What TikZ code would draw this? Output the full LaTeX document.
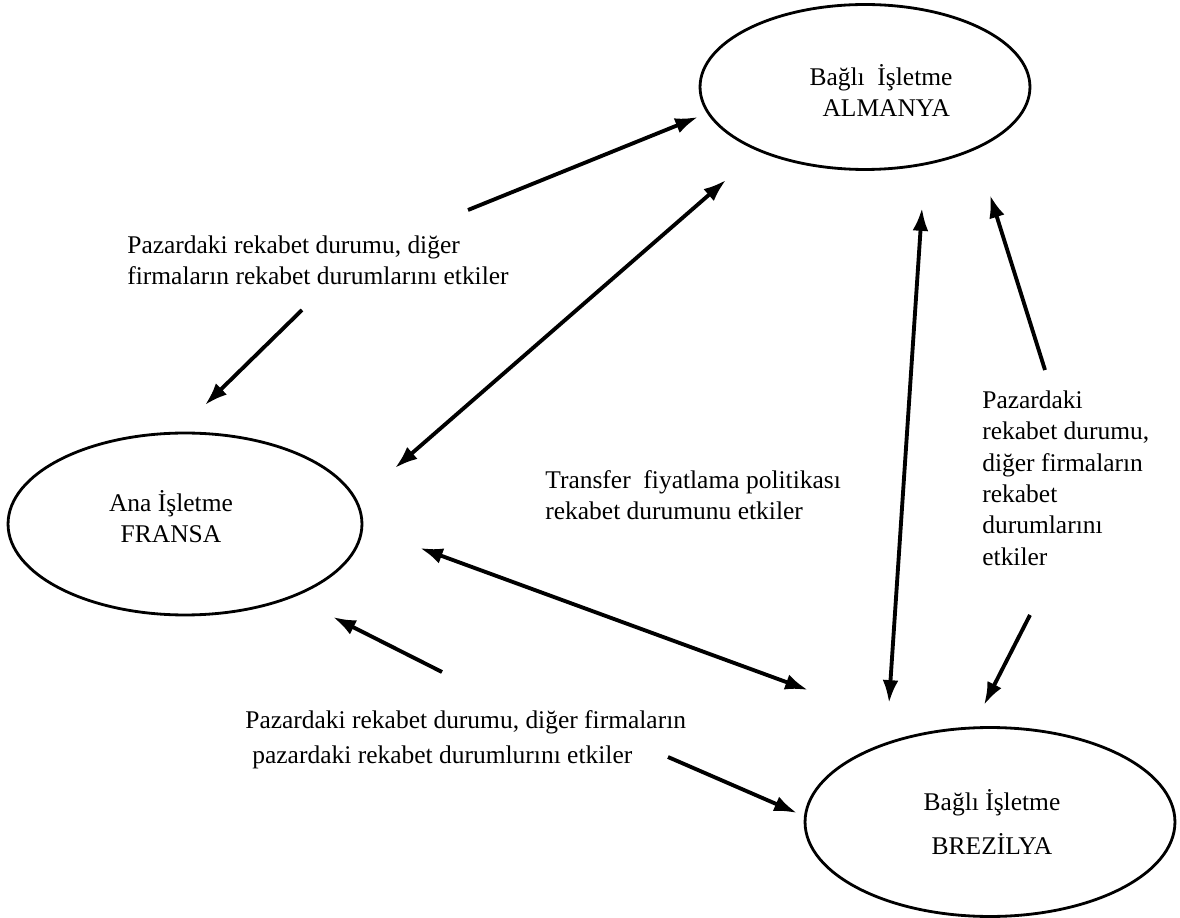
\documentclass[tikz,border=0pt]{standalone}
\usepackage{fontspec}
\setmainfont{Liberation Serif}
\usetikzlibrary{arrows.meta, positioning, shapes.geometric}

\begin{document}
\begin{tikzpicture}[x=0.02cm, y=-0.02cm, >={Latex[length=13pt, width=9pt]}, font=\fontsize{14.5}{17.8}\selectfont]
        % Estilos de empresas, textos y flechas
        \tikzstyle{empresa} = [draw, ellipse, line width=1.6pt, inner sep=0pt]
        \tikzstyle{texto} = [align=left, anchor=base west, inner sep=0pt]
        \tikzstyle{nombre} = [align=center, anchor=base, inner sep=0pt]
        \tikzstyle{flecha} = [line width=2.2pt]

        \useasboundingbox (0,0) rectangle (1180,918);

        % Empresas
        \node at (865,87) [empresa, minimum width=6.6cm, minimum height=3.3cm] (almanya) {};
        \node at (185,524) [empresa, minimum width=7.08cm, minimum height=3.64cm] (fransa) {};
        \node at (990,822) [empresa, minimum width=7.4cm, minimum height=3.78cm] (brezilya) {};
        \node at (881,117) [nombre] (almanyaTxt) {Bağlı~ İşletme\\\hspace*{6pt}ALMANYA};
        \node at (171,543) [nombre] (fransaTxt) {Ana İşletme\\FRANSA};
        \node at (992,854) [nombre] (brezilyaTxt) {Bağlı İşletme\\[7pt]BREZİLYA};

        % Textos
        \node at (127,285) [texto] (rekabetFA) {Pazardaki rekabet durumu, diğer\\firmaların rekabet durumlarını etkiler};
        \node at (545,520) [texto] (transfer) {Transfer~ fiyatlama politikası\\rekabet durumunu etkiler};
        \node at (982,565) [texto] (rekabetAB) {Pazardaki\\rekabet durumu,\\diğer firmaların\\rekabet\\durumlarını\\etkiler};
        \node at (245,763) [texto] (rekabetFB) {Pazardaki rekabet durumu, diğer firmaların\\[2pt]\hspace*{4pt}pazardaki rekabet durumlurını etkiler};

        % Extremos de las flechas
        \node at (468,210) [coordinate] (fa1) {};
        \node at (698,117) [coordinate] (fa2) {};
        \node at (302,310) [coordinate] (af1) {};
        \node at (205,405) [coordinate] (af2) {};
        \node at (395,468) [coordinate] (fa3) {};
        \node at (726,180) [coordinate] (fa4) {};
        \node at (922,208) [coordinate] (ab1) {};
        \node at (889,703) [coordinate] (ab2) {};
        \node at (1045,370) [coordinate] (ba1) {};
        \node at (990,195) [coordinate] (ba2) {};
        \node at (1030,615) [coordinate] (ab3) {};
        \node at (984,705) [coordinate] (ab4) {};
        \node at (420,548) [coordinate] (fb1) {};
        \node at (808,690) [coordinate] (fb2) {};
        \node at (442,672) [coordinate] (bf1) {};
        \node at (333,617) [coordinate] (bf2) {};
        \node at (668,757) [coordinate] (fb3) {};
        \node at (797,813) [coordinate] (fb4) {};

        % Flechas
        \draw [flecha, ->] (fa1) -- (fa2);
        \draw [flecha, ->] (af1) -- (af2);
        \draw [flecha, <->] (fa3) -- (fa4);
        \draw [flecha, <->] (ab1) -- (ab2);
        \draw [flecha, ->] (ba1) -- (ba2);
        \draw [flecha, ->] (ab3) -- (ab4);
        \draw [flecha, <->] (fb1) -- (fb2);
        \draw [flecha, ->] (bf1) -- (bf2);
        \draw [flecha, ->] (fb3) -- (fb4);
      \end{tikzpicture}
\end{document}
